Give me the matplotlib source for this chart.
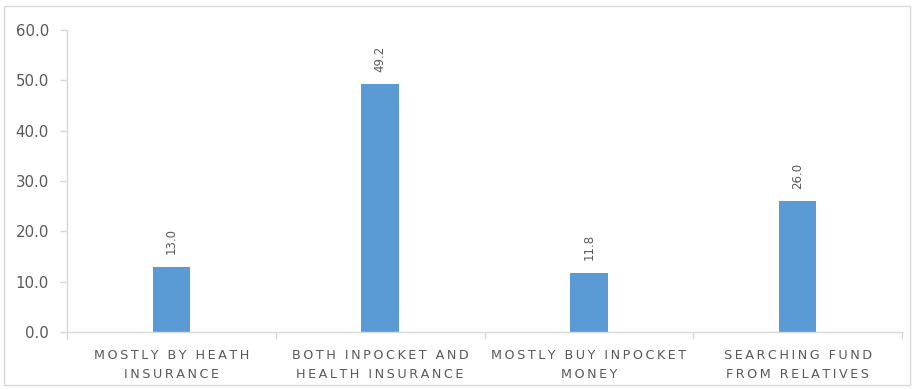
import matplotlib
matplotlib.use("Agg")
import matplotlib.pyplot as plt
from matplotlib.patches import Rectangle

# data
categories = ["MOSTLY BY HEATH\nINSURANCE",
              "BOTH INPOCKET AND\nHEALTH INSURANCE",
              "MOSTLY BUY INPOCKET\nMONEY",
              "SEARCHING FUND\nFROM RELATIVES"]
values = [13.0, 49.2, 11.8, 26.0]
yticks = [0, 10, 20, 30, 40, 50, 60]

bar_color = "#5b9bd5"
text_color = "#595959"
line_color = "#d9d9d9"


def spaced(s, gap="\u200a\u200a"):
    # excel-like letter spacing
    return "\n".join(gap.join(list(line)) for line in s.split("\n"))


plt.rcParams["font.family"] = ["DejaVu Sans"]

fig = plt.figure(figsize=(9.14, 3.89), dpi=100)
ax = fig.add_axes([67 / 914, 1 - 332 / 389, (902 - 67) / 914, (332 - 30) / 389])

x = list(range(len(values)))
bars = ax.bar(x, values, width=0.18, color=bar_color, zorder=2)

for xi, v in zip(x, values):
    ax.annotate(f"{v:.1f}", (xi, v), xytext=(0, 9), textcoords="offset points",
                rotation=90, ha="center", va="bottom", fontsize=8.5, color=text_color)

ax.set_xlim(-0.5, len(values) - 0.5)
ax.set_ylim(0, 60)
ax.set_yticks(yticks)
ax.set_yticklabels([f"{t:.1f}" for t in yticks])

ax.set_xticks(x)
ax.set_xticklabels([spaced(c) for c in categories], fontsize=9.2, color=text_color,
                   linespacing=1.6)
ax.set_xticks([i - 0.5 for i in range(len(values) + 1)], minor=True)
ax.tick_params(axis="x", which="major", length=0, pad=12)
ax.tick_params(axis="x", which="minor", length=5, color=line_color, width=1)
ax.tick_params(axis="y", length=5, color=line_color, width=1, pad=8,
               labelsize=10.8, labelcolor=text_color)

for side in ["top", "right"]:
    ax.spines[side].set_visible(False)
for side in ["left", "bottom"]:
    ax.spines[side].set_color(line_color)
    ax.spines[side].set_linewidth(1)

# outer chart border
fig.patches.append(Rectangle((4 / 914, 4 / 389), 906 / 914, 379 / 389,
                             transform=fig.transFigure, fill=False,
                             edgecolor=line_color, linewidth=1))

fig.savefig("out.png", dpi=100)
